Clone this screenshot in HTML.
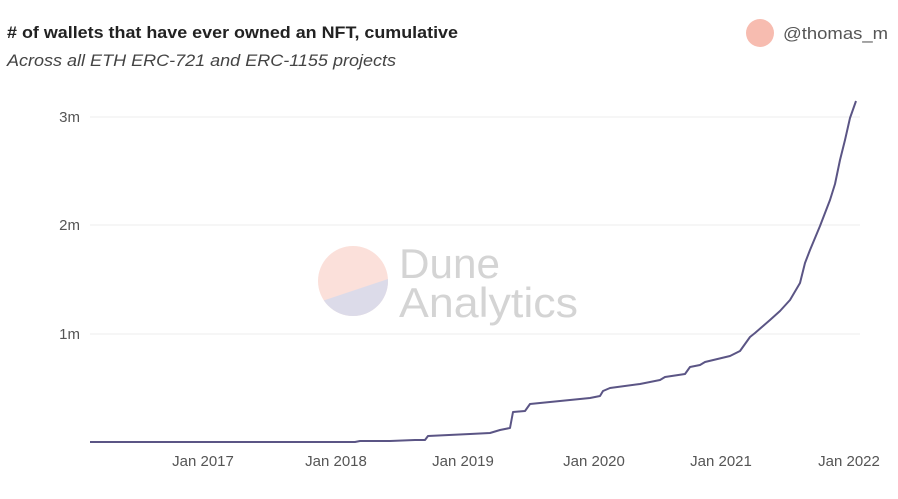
<!DOCTYPE html>
<html><head><meta charset="utf-8"><style>
body{margin:0;background:#fff;width:898px;height:494px;overflow:hidden;font-family:"Liberation Sans",sans-serif}
</style></head><body>
<svg width="898" height="494" xmlns="http://www.w3.org/2000/svg" font-family="Liberation Sans, sans-serif">
<text x="7" y="38" font-size="17" font-weight="bold" fill="#222" textLength="451" lengthAdjust="spacingAndGlyphs"># of wallets that have ever owned an NFT, cumulative</text>
<text x="7" y="66" font-size="17" font-style="italic" fill="#444" textLength="389" lengthAdjust="spacingAndGlyphs">Across all ETH ERC-721 and ERC-1155 projects</text>
<circle cx="760" cy="33" r="14" fill="#f7bcb0"/>
<text x="783" y="39" font-size="17" fill="#555" textLength="105" lengthAdjust="spacingAndGlyphs">@thomas_m</text>
<g stroke="#ececec" stroke-width="1">
<line x1="90" y1="117" x2="860" y2="117"/>
<line x1="90" y1="225" x2="860" y2="225"/>
<line x1="90" y1="334" x2="860" y2="334"/>
</g>
<g font-size="15" fill="#555" text-anchor="end">
<text x="80" y="122">3m</text><text x="80" y="230">2m</text><text x="80" y="339">1m</text>
</g>
<g font-size="15" fill="#555" text-anchor="middle">
<text x="203" y="466">Jan 2017</text><text x="336" y="466">Jan 2018</text><text x="463" y="466">Jan 2019</text>
<text x="594" y="466">Jan 2020</text><text x="721" y="466">Jan 2021</text><text x="849" y="466">Jan 2022</text>
</g>
<defs><clipPath id="c"><circle cx="353" cy="281" r="35"/></clipPath></defs>
<g clip-path="url(#c)">
<rect x="310" y="240" width="90" height="90" fill="#fbe0da"/>
<polygon points="310,305 400,275 400,330 310,330" fill="#dcdbe9"/>
</g>
<text x="399" y="278" font-size="42" fill="#d4d4d4" textLength="101" lengthAdjust="spacingAndGlyphs">Dune</text>
<text x="399" y="317" font-size="42" fill="#d4d4d4" textLength="179" lengthAdjust="spacingAndGlyphs">Analytics</text>
<polyline fill="none" stroke="#5b5585" stroke-width="2" stroke-linejoin="round" points="90,442 355,442 360,441 390,441 415,440 425,440 428,436 470,434 490,433 500,430 510,428 513,412 525,411 530,404 560,401 590,398 600,396 603,391 610,388 640,384 660,380 665,377 685,374 690,367 700,365 705,362 730,356 740,351 750,337 755,333 770,320 780,311 790,300 800,283 805,263 810,250 820,226 830,200 835,184 840,160 845,140 850,118 856,101"/>
</svg>
</body></html>
